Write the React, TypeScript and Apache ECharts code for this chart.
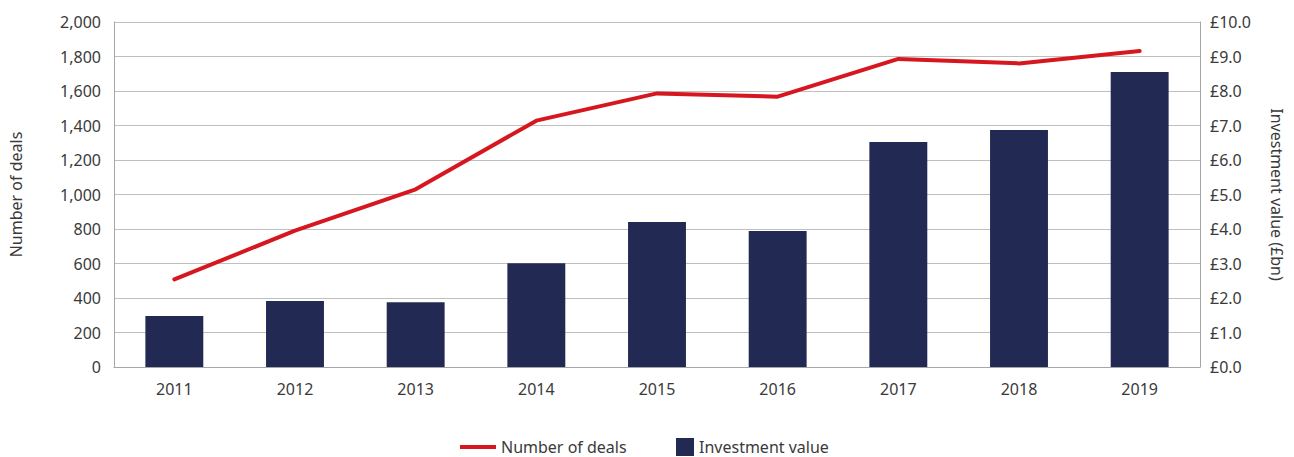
import React, { useEffect, useRef } from "react";
import * as echarts from "echarts";

const years = ["2011", "2012", "2013", "2014", "2015", "2016", "2017", "2018", "2019"];
const deals = [508, 790, 1030, 1428, 1586, 1567, 1786, 1760, 1832];
const investment = [1.48, 1.91, 1.88, 3.01, 4.2, 3.94, 6.52, 6.87, 8.55];

const FONT = "'Noto Sans', sans-serif";
const TEXT = "#3a3a3a";

export default function App() {
  const ref = useRef<HTMLDivElement>(null);
  useEffect(() => {
    if (!ref.current) return;
    const chart = echarts.init(ref.current, undefined, { renderer: "svg" });
    const legendText = { fontSize: 16, color: TEXT, fontFamily: FONT };
    chart.setOption({
      animation: false,
      textStyle: { fontFamily: FONT },
      grid: { left: 114, right: 94, top: 22, bottom: 90, outerBoundsMode: "none" },
      legend: [
        {
          left: 455,
          top: 433,
          itemWidth: 36,
          itemHeight: 18,
          itemGap: 8,
          textStyle: legendText,
          data: [
            { name: "Number of deals", icon: "path://M0,7 L36,7 L36,11 L0,11 Z M0,0 L0,0 M0,18 L0,18 M36,0 L36,0" },
          ],
        },
        {
          left: 671,
          top: 433,
          itemWidth: 18,
          itemHeight: 18,
          textStyle: legendText,
          data: [{ name: "Investment value", icon: "rect" }],
        },
      ],
      xAxis: {
        type: "category",
        data: years,
        axisLine: { lineStyle: { color: "#A6A6A6", width: 1 } },
        axisTick: { show: false },
        axisLabel: { fontSize: 16, color: TEXT, margin: 14, fontFamily: FONT },
      },
      yAxis: [
        {
          type: "value",
          min: 0,
          max: 2000,
          interval: 200,
          name: "Number of deals",
          nameLocation: "middle",
          nameGap: 90,
          nameTextStyle: { fontSize: 16, color: TEXT, fontFamily: FONT },
          axisLine: { show: true, lineStyle: { color: "#A6A6A6" } },
          axisTick: { show: false },
          axisLabel: {
            fontSize: 16,
            color: TEXT,
            margin: 13,
            fontFamily: FONT,
            formatter: (v: number) => v.toLocaleString("en-US"),
          },
          splitLine: { lineStyle: { color: "#BFBFBF", width: 1 } },
        },
        {
          type: "value",
          min: 0,
          max: 10,
          interval: 1,
          name: "Investment value (£bn)",
          nameLocation: "middle",
          nameGap: 69,
          nameRotate: -90,
          nameTextStyle: { fontSize: 16, color: TEXT, fontFamily: FONT },
          axisLine: { show: true, lineStyle: { color: "#A6A6A6" } },
          axisTick: { show: false },
          axisLabel: {
            fontSize: 16,
            color: TEXT,
            margin: 10,
            fontFamily: FONT,
            formatter: (v: number) => "£" + v.toFixed(1),
          },
          splitLine: { show: false },
        },
      ],
      series: [
        {
          name: "Investment value",
          type: "bar",
          yAxisIndex: 1,
          data: investment,
          barWidth: "48%",
          itemStyle: { color: "#222A54" },
        },
        {
          name: "Number of deals",
          type: "line",
          yAxisIndex: 0,
          data: deals,
          showSymbol: false,
          symbol: "none",
          lineStyle: { color: "#D7171F", width: 4, cap: "round", join: "round" },
          itemStyle: { color: "#D7171F" },
          z: 5,
        },
      ],
    });
    return () => chart.dispose();
  }, []);
  return (
    <div
      ref={ref}
      style={{ position: "fixed", left: 0, top: 0, width: 1294, height: 457, background: "#fff" }}
    />
  );
}
